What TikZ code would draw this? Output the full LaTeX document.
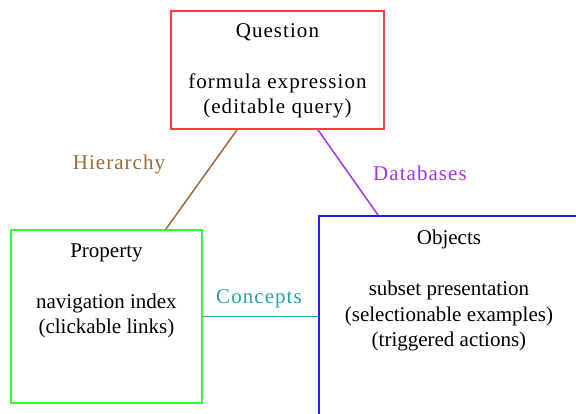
\documentclass[tikz,border=0pt]{standalone}
\usepackage{fontspec}
\setmainfont{Liberation Serif}
\newfontfamily\widefont[LetterSpace=5]{Liberation Serif}
\begin{document}
\begin{tikzpicture}[x=1pt,y=-1pt,
  box/.style={draw,line width=1.9pt,minimum width=#1,inner sep=0pt,anchor=north west},
  txt/.style={align=center,inner sep=0pt,anchor=north,font=\fontsize{21}{25.5}\selectfont},
  lbl/.style={inner sep=0pt,font=\widefont\fontsize{21}{25.5}\selectfont},
  conn/.style={line width=1.5pt}]
\definecolor{qred}{HTML}{FF3B3B}
\definecolor{pgreen}{HTML}{33FF33}
\definecolor{oblue}{HTML}{2020F0}
\definecolor{hbrown}{HTML}{9C6A3C}
\definecolor{dpurple}{HTML}{A234F2}
\definecolor{cteal}{HTML}{2AA3A3}
\clip (0,0) rectangle (576,413);
\fill[white] (0,0) rectangle (576,413);
\node[box=213pt,minimum height=118pt,draw=qred] (q) at (170,10) {};
\node[box=191pt,minimum height=173pt,draw=pgreen] (p) at (10,229) {};
\node[box=260pt,minimum height=230pt,draw=oblue] (o) at (318,215) {};
\node[txt,font=\widefont\fontsize{21}{25.5}\selectfont] (qt) at ([yshift=-13pt]q.north) {Question\\[25.5pt]formula expression\\(editable query)};
\node[txt] (pt) at ([yshift=-14.5pt]p.north) {Property\\[25.5pt]navigation index\\(clickable links)};
\node[txt] (ot) at ([yshift=-15pt]o.north) {Objects\\[25.5pt]subset presentation\\(selectionable examples)\\(triggered actions)};
\draw[conn,hbrown] ([xshift=67pt]q.south west) -- ([xshift=156pt]p.north west);
\draw[conn,dpurple] ([xshift=148pt]q.south west) -- ([xshift=60pt]o.north west);
\draw[conn,cteal] (p.east) -- (p.east -| o.west);
\node[lbl,text=hbrown] (hl) at (119,164) {Hierarchy};
\node[lbl,text=dpurple] (dl) at (420,173) {Databases};
\node[lbl,text=cteal] (cl) at (259,299) {Concepts};
\end{tikzpicture}
\end{document}
